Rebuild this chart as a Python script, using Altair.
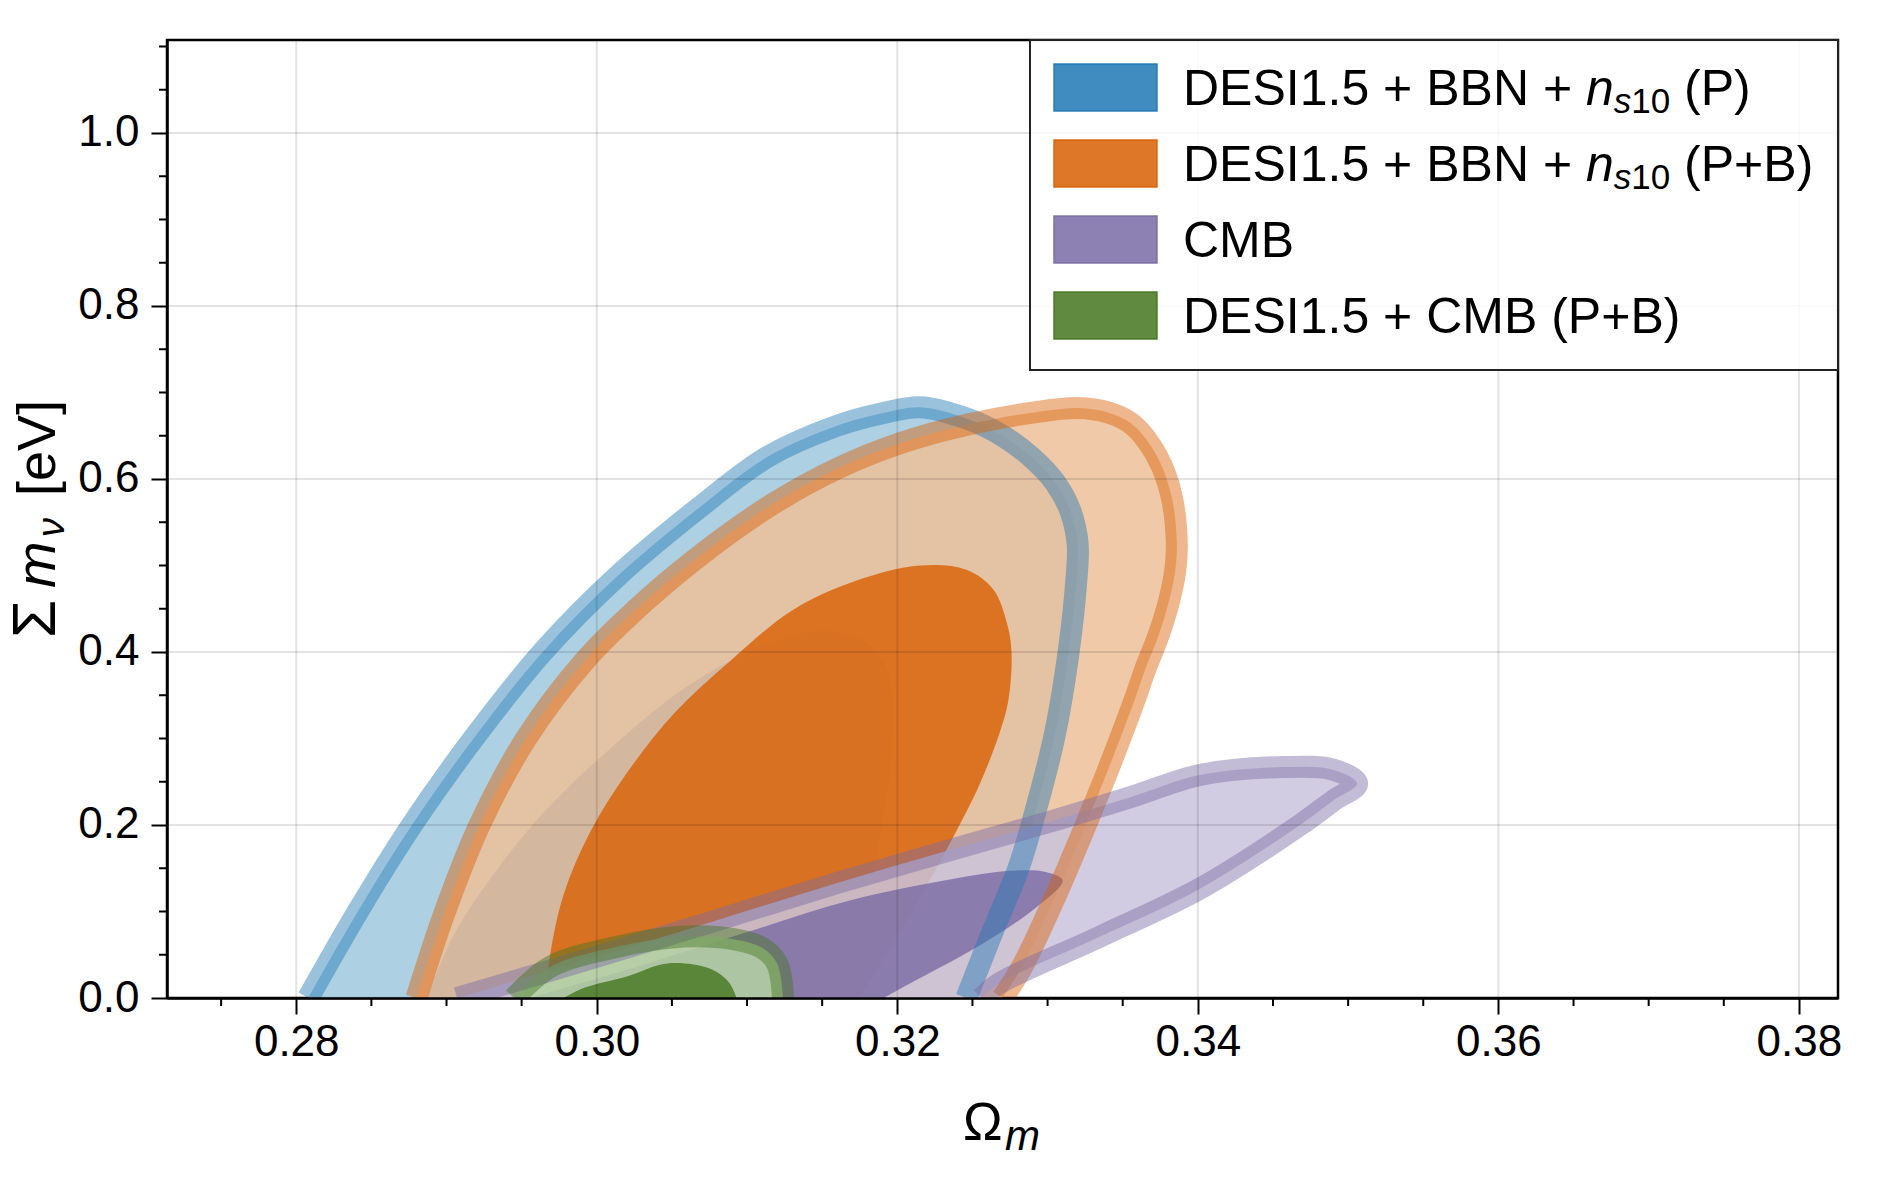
import altair as alt
import pandas as pd

FONT = "Liberation Sans"

# plot area size in px
W, H = 1671, 958

OM_DOMAIN = [0.2714, 0.3826]
MNU_DOMAIN = [0.0, 1.1075]

om_major = [0.28, 0.30, 0.32, 0.34, 0.36, 0.38]
om_minor = [0.275, 0.285, 0.29, 0.295, 0.305, 0.31, 0.315, 0.325, 0.33, 0.335,
            0.345, 0.35, 0.355, 0.365, 0.37, 0.375]
mnu_major = [0.0, 0.2, 0.4, 0.6, 0.8, 1.0]
mnu_minor = [0.05, 0.1, 0.15, 0.25, 0.3, 0.35, 0.45, 0.5, 0.55, 0.65, 0.7, 0.75,
             0.85, 0.9, 0.95, 1.05, 1.1]

# ---- credible-region boundaries in the (Omega_m, sum m_nu) plane ----
# DESI1.5 + BBN + n_s10 (P)
blue95_om = [0.2808, 0.2841, 0.2877, 0.2918, 0.2964, 0.3014, 0.3069, 0.3114, 0.3159,
             0.3190, 0.3215, 0.3246, 0.3270, 0.3290, 0.3305, 0.3315, 0.3320, 0.3319,
             0.3314, 0.3305, 0.3294, 0.3281, 0.3263, 0.3246]
blue95_mnu = [0.0, 0.100, 0.200, 0.300, 0.400, 0.488, 0.568, 0.626, 0.661,
              0.676, 0.683, 0.670, 0.650, 0.624, 0.596, 0.564, 0.525, 0.480,
              0.400, 0.306, 0.229, 0.152, 0.075, 0.0]
blue68_om = [0.2887, 0.2904, 0.2930, 0.2965, 0.3010, 0.3060, 0.3105, 0.3146, 0.3175,
             0.3192, 0.3197, 0.3196, 0.3190, 0.3179, 0.3165]
blue68_mnu = [0.0, 0.070, 0.140, 0.215, 0.290, 0.360, 0.403, 0.424, 0.415,
              0.385, 0.345, 0.280, 0.200, 0.100, 0.0]

# DESI1.5 + BBN + n_s10 (P+B)
orange95_om = [0.2880, 0.2899, 0.2922, 0.2953, 0.2992, 0.3033, 0.3075, 0.3118, 0.3160,
               0.3203, 0.3247, 0.3291, 0.3320, 0.3340, 0.3355, 0.3366, 0.3376, 0.3383,
               0.3386, 0.3385, 0.3381, 0.3374, 0.3365, 0.3358, 0.3341, 0.3323, 0.3304,
               0.3283, 0.3270]
orange95_mnu = [0.0, 0.100, 0.200, 0.300, 0.390, 0.460, 0.520, 0.572, 0.612,
                0.642, 0.663, 0.677, 0.682, 0.677, 0.665, 0.645, 0.615, 0.576,
                0.525, 0.495, 0.460, 0.420, 0.380, 0.345, 0.267, 0.190, 0.113,
                0.036, 0.0]
orange68_om = [0.2966, 0.2969, 0.2978, 0.2995, 0.3020, 0.3052, 0.3089, 0.3130, 0.3172,
               0.3215, 0.3246, 0.3264, 0.3273, 0.3276, 0.3274, 0.3268, 0.3255, 0.3242,
               0.3210, 0.3175]
orange68_mnu = [0.0, 0.050, 0.120, 0.190, 0.260, 0.330, 0.390, 0.448, 0.482,
                0.500, 0.495, 0.472, 0.433, 0.400, 0.345, 0.306, 0.248, 0.202,
                0.100, 0.0]

# CMB
purple95_om = [0.2907, 0.2995, 0.3080, 0.3160, 0.3235, 0.3302, 0.3355, 0.3402, 0.3457,
               0.3490, 0.3506, 0.3490, 0.3468, 0.3402, 0.3335, 0.3268, 0.3256]
purple95_mnu = [0.0, 0.045, 0.090, 0.133, 0.171, 0.204, 0.232, 0.258, 0.267,
                0.264, 0.248, 0.228, 0.200, 0.127, 0.071, 0.017, 0.0]
purple68_om = [0.2955, 0.3030, 0.3098, 0.3169, 0.3235, 0.3275, 0.3298, 0.3310, 0.3293,
               0.3257, 0.3213, 0.3191]
purple68_mnu = [0.0, 0.038, 0.075, 0.113, 0.137, 0.147, 0.146, 0.136, 0.1055,
                0.063, 0.021, 0.0]

# DESI1.5 + CMB (P+B)
green95_om = [0.2945, 0.2969, 0.3013, 0.3058, 0.3091, 0.3110, 0.3120, 0.3124]
green95_mnu = [0.0, 0.036, 0.059, 0.071, 0.068, 0.058, 0.040, 0.0]
green68_om = [0.2978, 0.2992, 0.3020, 0.3047, 0.3075, 0.3088, 0.3093]
green68_mnu = [0.0, 0.012, 0.025, 0.040, 0.034, 0.018, 0.0]

# inner (68%) colour, outer (95%) tint
datasets = [
    ("#1f77b4", "#a0c8de", (blue95_om, blue95_mnu), (blue68_om, blue68_mnu)),
    ("#d95f02", "#edbf99", (orange95_om, orange95_mnu), (orange68_om, orange68_mnu)),
    ("#796aa4", "#c9c3dc", (purple95_om, purple95_mnu), (purple68_om, purple68_mnu)),
    ("#43751e", "#b4d2a2", (green95_om, green95_mnu), (green68_om, green68_mnu)),
]

# legend label pieces: n = normal, i = italic, s = subscript, si = italic subscript
legend_rows = [
    [("DESI1.5 + BBN + ", "n"), ("n", "i"), ("s", "si"), ("10", "s"), (" (P)", "n")],
    [("DESI1.5 + BBN + ", "n"), ("n", "i"), ("s", "si"), ("10", "s"), (" (P+B)", "n")],
    [("CMB", "n")],
    [("DESI1.5 + CMB (P+B)", "n")],
]

x_scale = alt.Scale(domain=OM_DOMAIN, nice=False, zero=False)
y_scale = alt.Scale(domain=MNU_DOMAIN, nice=False, zero=False)

x_axis = alt.Axis(values=om_major, format=".2f", title=None, grid=False,
                  domain=True, domainColor="black", domainWidth=2.5,
                  ticks=True, tickSize=16, tickWidth=2, tickColor="black",
                  labelFont=FONT, labelFontSize=44, labelColor="black",
                  labelPadding=41, labelBaseline="alphabetic",
                  labelFlush=False, labelOverlap=False, zindex=1)
y_axis = alt.Axis(values=mnu_major, format=".1f", title=None, grid=False,
                  domain=True, domainColor="black", domainWidth=2.5,
                  ticks=True, tickSize=16, tickWidth=2, tickColor="black",
                  labelFont=FONT, labelFontSize=44, labelColor="black",
                  labelPadding=12, labelFlush=False, labelOverlap=False, zindex=1)

X_ENC = alt.X("om:Q", scale=x_scale, axis=x_axis)
Y_ENC = alt.Y("mnu:Q", scale=y_scale, axis=y_axis)

# advance widths (1/1000 em) of the Liberation Sans glyphs used in the legend
GLYPH_W = {" ": 278, "+": 584, ".": 278, "(": 333, ")": 333, "B": 667, "C": 722,
           "D": 722, "E": 667, "I": 278, "M": 833, "N": 722, "P": 667, "S": 667,
           "n": 556, "s": 500}


def text_width(s, size):
    return sum(GLYPH_W.get(c, 556) for c in s) / 1000.0 * size


def contour_chart(xs, ys):
    df = pd.DataFrame({"om": xs, "mnu": ys, "i": list(range(len(xs)))})
    return alt.Chart(df)


one = pd.DataFrame({"a": [0]})
layers = []

# filled regions: 95% tint first, 68% on top, dataset by dataset
for c68, c95, (x95, y95), (x68, y68) in datasets:
    layers.append(contour_chart(x95, y95).mark_line(
        fill=c95, fillOpacity=0.85, strokeWidth=0, interpolate="catmull-rom",
        clip=True).encode(x=X_ENC, y=Y_ENC, order="i:Q"))
    layers.append(contour_chart(x68, y68).mark_line(
        fill=c68, fillOpacity=0.8, strokeWidth=0, interpolate="catmull-rom",
        clip=True).encode(x=X_ENC, y=Y_ENC, order="i:Q"))

# thick translucent outline of every 95% region
for c68, c95, (x95, y95), _ in datasets:
    layers.append(contour_chart(x95, y95).mark_line(
        stroke=c68, strokeOpacity=0.45, strokeWidth=22, strokeCap="butt",
        interpolate="catmull-rom", clip=True).encode(x=X_ENC, y=Y_ENC, order="i:Q"))

# grid lines drawn over the contours
layers.append(alt.Chart(pd.DataFrame({"om": om_major})).mark_rule(
    color="black", opacity=0.11, strokeWidth=2).encode(
    x=X_ENC, y=alt.value(0), y2=alt.value(H)))
layers.append(alt.Chart(pd.DataFrame({"mnu": mnu_major[1:]})).mark_rule(
    color="black", opacity=0.11, strokeWidth=2).encode(
    y=Y_ENC, x=alt.value(0), x2=alt.value(W)))

# minor ticks
layers.append(alt.Chart(pd.DataFrame({"om": om_minor})).mark_rule(
    color="black", strokeWidth=2).encode(
    x=X_ENC, y=alt.value(H), y2=alt.value(H + 8)))
layers.append(alt.Chart(pd.DataFrame({"mnu": mnu_minor})).mark_rule(
    color="black", strokeWidth=2).encode(
    y=Y_ENC, x=alt.value(0), x2=alt.value(-8)))

# legend
LEG_X0, LEG_Y1 = 863, 330
layers.append(alt.Chart(one).mark_rect(
    fill="white", fillOpacity=0.8, stroke="#222222", strokeWidth=2).encode(
    x=alt.value(LEG_X0), x2=alt.value(W), y=alt.value(0), y2=alt.value(LEG_Y1)))

SW_X0, SW_X1, TXT_X = 887, 990, 1016
for k, ((c68, _, _, _), pieces) in enumerate(zip(datasets, legend_rows)):
    base = 65 + 76 * k
    mid = base - 17.5
    layers.append(alt.Chart(one).mark_rect(
        fill=c68, fillOpacity=0.85, stroke=c68, strokeOpacity=0.9, strokeWidth=1.5).encode(
        x=alt.value(SW_X0), x2=alt.value(SW_X1),
        y=alt.value(mid - 23.5), y2=alt.value(mid + 23.5)))
    xpos = TXT_X
    for txt, style in pieces:
        sub = style in ("s", "si")
        size = 35 if sub else 50
        lead = len(txt) - len(txt.lstrip(" "))
        xpos += text_width(" " * lead, size)
        body = txt.strip(" ")
        layers.append(alt.Chart(one).mark_text(
            text=body, align="left", baseline="alphabetic", font=FONT,
            fontSize=size, fontStyle="italic" if style in ("i", "si") else "normal",
            color="black").encode(
            x=alt.value(xpos), y=alt.value(base + (8 if sub else 0))))
        xpos += text_width(txt.lstrip(" "), size)

# axis titles
layers.append(alt.Chart(one).mark_text(
    text="Ω", align="left", baseline="alphabetic", font=FONT, fontSize=53,
    color="black").encode(x=alt.value(796), y=alt.value(1100)))
layers.append(alt.Chart(one).mark_text(
    text="m", align="left", baseline="alphabetic", font=FONT, fontSize=42,
    fontStyle="italic", color="black").encode(x=alt.value(838), y=alt.value(1110)))

YT_X = -112
for txt, ypos, size, style, dx in [("Σ", 598, 62, "normal", 0),
                                   ("m", 548, 56, "italic", 0),
                                   ("ν", 497, 38, "italic", 9),
                                   ("[eV]", 456, 54, "normal", 0)]:
    layers.append(alt.Chart(one).mark_text(
        text=txt, align="left", baseline="alphabetic", font=FONT, fontSize=size,
        fontStyle=style, angle=270, color="black").encode(
        x=alt.value(YT_X + dx), y=alt.value(ypos)))

chart = alt.layer(*layers).properties(
    width=W, height=H,
    padding={"left": 167, "top": 40, "right": 51, "bottom": 202},
    autosize=alt.AutoSizeParams(type="none"),
    background="white",
).configure_view(stroke="black", strokeWidth=2.5)

chart.save("out.html", embed_options={"renderer": "svg", "actions": False})
